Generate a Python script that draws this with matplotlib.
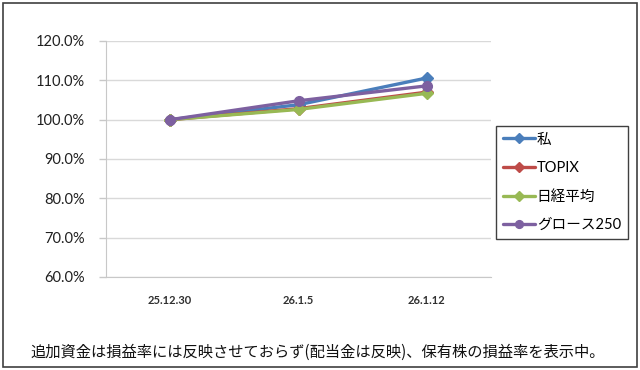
import matplotlib
matplotlib.use("Agg")
import matplotlib.pyplot as plt
from matplotlib.patches import Rectangle
from matplotlib.ticker import FuncFormatter, MultipleLocator

plt.rcParams['font.family'] = ['Lato', 'Noto Sans CJK JP', 'DejaVu Sans']

dates = ["25.12.30", "26.1.5", "26.1.12"]
series_names = ["私", "TOPIX", "日経平均", "グロース250"]
me = [100.0, 103.8, 110.6]
topix = [100.0, 102.8, 107.0]
nikkei = [100.0, 102.6, 106.7]
growth = [100.0, 104.8, 108.6]
caption = "追加資金は損益率には反映させておらず(配当金は反映)、保有株の損益率を表示中。"

colors = ["#4A7EBB", "#BE4B48", "#98B954", "#7D60A0"]
markers = ["D", "D", "D", "o"]
msizes = [6.5, 6.0, 6.0, 7.0]

fig = plt.figure(figsize=(6.4, 3.7), dpi=100)
W, H = 640, 370
ax = fig.add_axes([106 / W, 1 - 277 / H, 385 / W, 236 / H])

x = list(range(len(dates)))
for vals, name, c, m, ms in zip([me, topix, nikkei, growth], series_names, colors, markers, msizes):
    ax.plot(x, vals, color=c, lw=2.4, marker=m, markersize=ms, label=name,
            solid_capstyle='round', solid_joinstyle='round')

ax.set_xlim(-0.5, 2.5)
ax.set_ylim(60, 120)
ax.yaxis.set_major_locator(MultipleLocator(10))
ax.yaxis.set_major_formatter(FuncFormatter(lambda v, p: f"{v:.1f}%"))
ax.set_xticks(x)
ax.set_xticklabels(dates, fontsize=8, fontweight='bold', color='#303030')
ax.tick_params(axis='x', length=0, pad=13)
ax.tick_params(axis='y', length=5, width=1, color='#C8C8C8', labelsize=10.5, pad=10, labelcolor='#202020')
ax.grid(axis='y', color='#D9D9D9', lw=1)
ax.set_axisbelow(True)
for s in ['top', 'right']:
    ax.spines[s].set_visible(False)
ax.spines['left'].set_color('#C8C8C8')
ax.spines['bottom'].set_color('#C8C8C8')

leg = fig.legend(loc='upper left', bbox_to_anchor=(496 / W, 1 - 126 / H),
                 fontsize=10.5, frameon=True, fancybox=False, edgecolor='#404040',
                 framealpha=1, handlelength=2.2, handletextpad=0.15,
                 labelspacing=1.0, borderpad=0.45, borderaxespad=0, markerscale=0.8)
leg.get_frame().set_linewidth(1.0)

fig.text(318 / W, 1 - 352 / H, caption, ha='center', va='center', fontsize=11,
         family=['Noto Sans CJK JP', 'DejaVu Sans'], color='#101010')

fig.patches.append(Rectangle((3 / W, 3 / H), 634 / W, 364 / H, transform=fig.transFigure,
                             fill=False, edgecolor='#404040', lw=1.2))

fig.savefig("out.png", dpi=100)
